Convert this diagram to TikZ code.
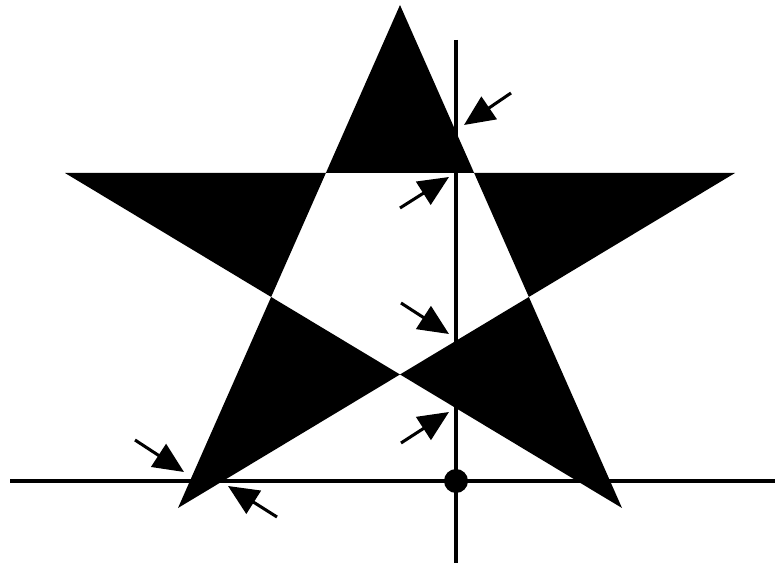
\documentclass[tikz,border=0pt]{standalone}
\usetikzlibrary{arrows.meta}
\tikzset{
 axisline/.style={line width=2.6pt, black},
 pointer/.style={-{Triangle[length=26pt, width=23pt]}, line width=2.6pt},
 starfill/.style={fill=black, even odd rule}
}

\begin{document}
\begin{tikzpicture}[x=0.03cm, y=-0.03cm]
 \useasboundingbox (0,0) rectangle (777,565);
 % star corners
 \coordinate (top) at (400,5);
 \coordinate (left) at (65,173);
 \coordinate (right) at (735,173);
 \coordinate (botl) at (178,508);
 \coordinate (botr) at (622,508);
 \fill[starfill] (top) -- (botl) -- (right) -- (left) -- (botr) -- cycle;
 % axes
 \coordinate (vtop) at (456,40);
 \coordinate (vbot) at (456,563);
 \coordinate (hleft) at (10,481);
 \coordinate (hright) at (775,481);
 \draw[axisline] (vtop) -- (vbot);
 \draw[axisline] (hleft) -- (hright);
 \node[circle, fill=black, minimum size=0.72cm, inner sep=0pt] (origin) at (456,481) {};
 % pointers
 \coordinate (a1) at (511,93); \coordinate (b1) at (464,125);
 \coordinate (a2) at (400,208); \coordinate (b2) at (449,177);
 \coordinate (a3) at (401,303); \coordinate (b3) at (449,334);
 \coordinate (a4) at (401,443); \coordinate (b4) at (449,412);
 \coordinate (a5) at (135,440); \coordinate (b5) at (184,472);
 \coordinate (a6) at (277,517); \coordinate (b6) at (228,486);
 \draw[pointer] (a1) -- (b1);
 \draw[pointer] (a2) -- (b2);
 \draw[pointer] (a3) -- (b3);
 \draw[pointer] (a4) -- (b4);
 \draw[pointer] (a5) -- (b5);
 \draw[pointer] (a6) -- (b6);
\end{tikzpicture}
\end{document}
